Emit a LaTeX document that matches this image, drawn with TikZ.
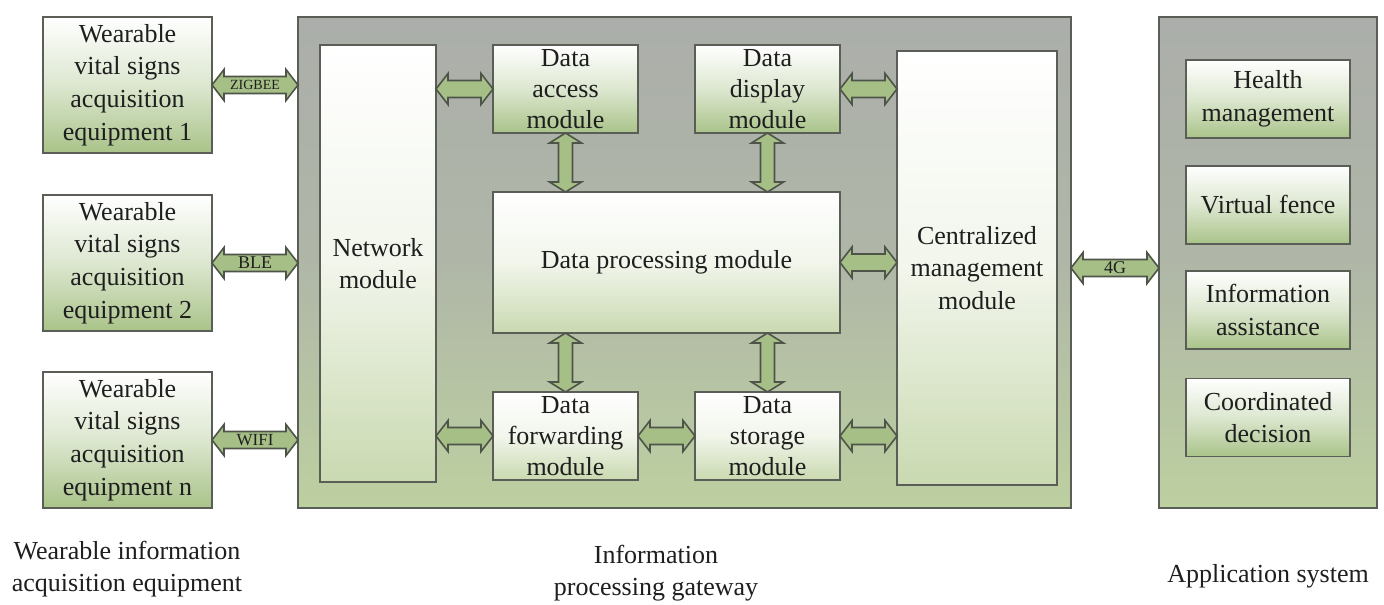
\documentclass[tikz,border=0pt]{standalone}
\usepackage{fontspec}
\setmainfont{Liberation Serif}
\usetikzlibrary{calc}

\definecolor{boxline}{HTML}{5A5E56}
\definecolor{boxgreen}{HTML}{A9C389}
\definecolor{lightgreen}{HTML}{C9D9B0}
\definecolor{panelgray}{HTML}{ABAEAA}
\definecolor{panelgreen}{HTML}{BDD0A0}
\definecolor{arrowfill}{HTML}{A6BF86}
\definecolor{arrowline}{HTML}{4E5449}
\definecolor{inktext}{HTML}{1E1E1E}

% fat double-headed arrows: shaft half-width, head half-width, head length
\def\hShaft{4.25pt}\def\hHead{7.75pt}\def\hLen{6pt}
\def\vShaft{3.5pt}\def\vHead{8pt}\def\vLen{5pt}

\newcommand\fatharrow[3]{%
  \filldraw[fatarrow] let \p1=(#1), \p2=(#2) in
    (\x1,\y1) -- (\x1+\hLen,\y1+\hHead) -- (\x1+\hLen,\y1+\hShaft)
    -- (\x2-\hLen,\y1+\hShaft) -- (\x2-\hLen,\y1+\hHead) -- (\x2,\y1)
    -- (\x2-\hLen,\y1-\hHead) -- (\x2-\hLen,\y1-\hShaft)
    -- (\x1+\hLen,\y1-\hShaft) -- (\x1+\hLen,\y1-\hHead) -- cycle
    (\x1/2+\x2/2,\y1) node[arrowlabel] {#3};}

\newcommand\fatvarrow[2]{%
  \filldraw[fatarrow] let \p1=(#1), \p2=(#2) in
    (\x1,\y1) -- (\x1+\vHead,\y1-\vLen) -- (\x1+\vShaft,\y1-\vLen)
    -- (\x1+\vShaft,\y2+\vLen) -- (\x1+\vHead,\y2+\vLen) -- (\x1,\y2)
    -- (\x1-\vHead,\y2+\vLen) -- (\x1-\vShaft,\y2+\vLen)
    -- (\x1-\vShaft,\y1-\vLen) -- (\x1-\vHead,\y1-\vLen) -- cycle;}

\begin{document}
\begin{tikzpicture}[x=0.5pt,y=-0.5pt,
  panel/.style={draw=boxline, line width=0.9pt, top color=panelgray, bottom color=panelgreen,
    middle color=panelgray!75!panelgreen, inner sep=0pt, outer sep=0pt},
  box/.style={draw=boxline, line width=0.9pt, top color=white, bottom color=boxgreen,
    middle color=white!60!boxgreen, inner sep=0pt, outer sep=0pt, align=center, text=inktext,
    font=\fontsize{13}{16.3}\selectfont},
  boxlight/.style={box, bottom color=lightgreen, middle color=white!75!lightgreen},
  tight/.style={font=\fontsize{13}{15.5}\selectfont},
  devbox/.style={box, minimum width=84.5pt, minimum height=68pt},
  modbox/.style={minimum width=72.5pt, minimum height=44pt, tight},
  appbox/.style={box, minimum width=82pt, minimum height=39pt},
  fatarrow/.style={fill=arrowfill, draw=arrowline, line width=0.8pt, line join=miter},
  arrowlabel/.style={text=inktext, inner sep=0pt, font=\fontsize{8}{8}\selectfont},
  caption/.style={align=center, text=inktext, font=\fontsize{13}{16}\selectfont}]

\fill[white] (0,0) rectangle (1384,604);
\useasboundingbox (0,0) rectangle (1384,604);

% panels
\node[panel, minimum width=386.5pt, minimum height=245.5pt] (gw) at (684.5,262.5) {};
\node[panel, minimum width=109pt, minimum height=245.5pt] (app) at (1268,262.5) {};

% wearable devices
\node[devbox] (w1) at (127.5,85) {Wearable\\vital signs\\acquisition\\equipment 1};
\node[devbox] (w2) at (127.5,263) {Wearable\\vital signs\\acquisition\\equipment 2};
\node[devbox] (w3) at (127.5,440) {Wearable\\vital signs\\acquisition\\equipment n};

% gateway modules
\node[boxlight, minimum width=58pt, minimum height=218.5pt] (net) at (378,263.5) {Network\\module};
\node[box, modbox] (acc) at (565.5,89) {Data\\access\\module};
\node[box, modbox] (disp) at (767.5,89) {Data\\display\\module};
\node[boxlight, minimum width=173.5pt, minimum height=70.5pt] (proc) at (666.5,262.5) {Data processing module};
\node[boxlight, modbox] (fwd) at (565.5,436) {Data\\forwarding\\module};
\node[boxlight, modbox] (stor) at (767.5,436) {Data\\storage\\module};
\node[boxlight, minimum width=80pt, minimum height=217pt] (cm) at (977,268) {Centralized\\management\\module};

% application functions
\node[appbox] (health) at (1268,99) {Health\\management};
\node[appbox] (fence) at (1268,205) {Virtual fence};
\node[appbox] (assist) at (1268,310) {Information\\assistance};
\node[appbox] (coord) at (1268,417.5) {Coordinated\\decision};

% links from devices into the gateway
\fatharrow{w1.east}{gw.west |- w1.east}{\fontsize{7}{7}\selectfont ZIGBEE}
\fatharrow{w2.east}{gw.west |- w2.east}{\fontsize{9}{9}\selectfont BLE}
\fatharrow{w3.east}{gw.west |- w3.east}{\fontsize{8.5}{8.5}\selectfont WIFI}

% links inside the gateway
\fatharrow{net.east |- acc.west}{acc.west}{}
\fatharrow{disp.east}{cm.west |- disp.east}{}
\fatharrow{proc.east}{cm.west |- proc.east}{}
\fatharrow{net.east |- fwd.west}{fwd.west}{}
\fatharrow{fwd.east}{stor.west}{}
\fatharrow{stor.east}{cm.west |- stor.east}{}
\fatvarrow{acc.south}{proc.north -| acc.south}
\fatvarrow{disp.south}{proc.north -| disp.south}
\fatvarrow{proc.south -| fwd.north}{fwd.north}
\fatvarrow{proc.south -| stor.north}{stor.north}

% gateway to application system
\fatharrow{gw.east |- cm.east}{app.west |- cm.east}{\fontsize{9}{9}\selectfont 4G}

% captions
\node[caption] (capw) at (127,569) {Wearable information\\acquisition equipment};
\node[caption] (capg) at (656,573) {Information\\processing gateway};
\node[caption] (capa) at (1268,576) {Application system};
\end{tikzpicture}
\end{document}
